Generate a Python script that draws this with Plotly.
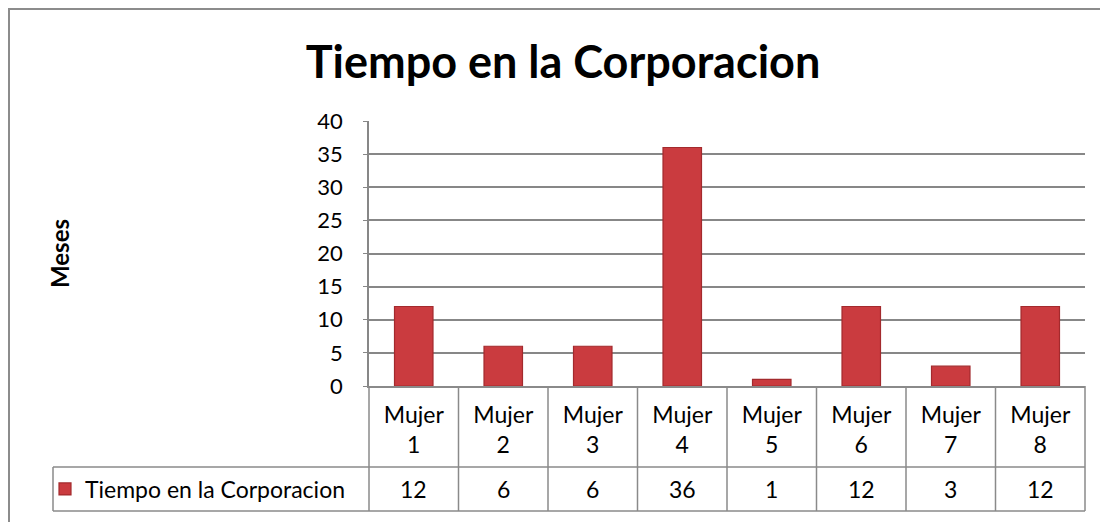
import plotly.graph_objects as go

categories = ["Mujer 1", "Mujer 2", "Mujer 3", "Mujer 4", "Mujer 5", "Mujer 6", "Mujer 7", "Mujer 8"]
tick_labels = ["Mujer<br>1", "Mujer<br>2", "Mujer<br>3", "Mujer<br>4", "Mujer<br>5", "Mujer<br>6", "Mujer<br>7", "Mujer<br>8"]
values = [12, 6, 6, 36, 1, 12, 3, 12]
series_name = "Tiempo en la Corporacion"
title_text = "Tiempo en la Corporacion"
y_title = "Meses"

# page has an 8px body margin, so the figure is 8px smaller than the window
OFF = 8
FIG_W, FIG_H = 1100, 514
L, R, T = 361, 23, 113
BOTTOM_PX = 378
B = FIG_H - BOTTOM_PX
PW = FIG_W - L - R
PH = FIG_H - T - B


def px2x(rx):
    return (rx - OFF - L) / PW


def py2y(ry):
    return (BOTTOM_PX - (ry - OFF)) / PH


FONT = "Lato"
GRID = "#878787"
TABLE = "#8a8a8a"
TXT = 23
n = len(categories)

fig = go.Figure()
fig.add_trace(go.Bar(
    x=list(range(n)), y=values, name=series_name, width=0.43,
    marker=dict(color="#CA3B3F", line=dict(color="#A32A2D", width=1.2)),
    showlegend=True,
))

shapes = []
# outer chart border (top & left visible)
shapes.append(dict(type="rect", xref="paper", yref="paper",
                   x0=px2x(9), x1=px2x(1140), y0=py2y(560), y1=py2y(9),
                   line=dict(color="#8c8c8c", width=2), layer="below"))
# table horizontal lines
for ry in (467, 511):
    shapes.append(dict(type="line", xref="paper", yref="paper",
                       x0=px2x(53), x1=1, y0=py2y(ry), y1=py2y(ry),
                       line=dict(color=TABLE, width=1.5)))
# table vertical lines
for k in range(n + 1):
    xp = k / n
    shapes.append(dict(type="line", xref="paper", yref="paper",
                       x0=xp, x1=xp, y0=py2y(511), y1=0,
                       line=dict(color=TABLE, width=1.5)))
shapes.append(dict(type="line", xref="paper", yref="paper",
                   x0=px2x(53), x1=px2x(53), y0=py2y(511), y1=py2y(467),
                   line=dict(color=TABLE, width=1.5)))

annotations = []
for i, v in enumerate(values):
    annotations.append(dict(x=i, xref="x", y=py2y(489), yref="paper",
                            text=str(v), showarrow=False,
                            font=dict(family=FONT, size=TXT, color="#000"),
                            xanchor="center", yanchor="middle"))
annotations.append(dict(x=px2x(59), xref="paper", y=py2y(254), yref="paper",
                        text="<b>%s</b>" % y_title, showarrow=False, textangle=-90,
                        font=dict(family=FONT, size=24, color="#000"),
                        xanchor="center", yanchor="middle"))

fig.update_layout(
    width=FIG_W, height=FIG_H,
    margin=dict(l=L, r=R, t=T, b=B),
    paper_bgcolor="white", plot_bgcolor="white",
    title=dict(text="<b>%s</b>" % title_text, x=(563 - OFF) / FIG_W, xanchor="center",
               y=1 - (62 - OFF) / FIG_H, yanchor="middle", yref="container",
               font=dict(family=FONT, size=45, color="#000")),
    xaxis=dict(range=[-0.5, n - 0.5], tickmode="array", tickvals=list(range(n)),
               ticktext=tick_labels, showgrid=False, zeroline=False,
               showline=True, linecolor=TABLE, linewidth=1.5, ticks="",
               tickfont=dict(family=FONT, size=TXT, color="#000"), ticklabelstandoff=8),
    yaxis=dict(range=[0, 40], dtick=5, showgrid=True, gridcolor=GRID, gridwidth=1.5,
               zeroline=False, showline=True, linecolor=GRID, linewidth=1.5,
               ticks="outside", ticklen=4, tickcolor=GRID, ticklabelstandoff=16,
               tickfont=dict(family=FONT, size=22, color="#000")),
    legend=dict(x=px2x(45), xanchor="left", y=py2y(489), yanchor="middle",
                xref="paper", yref="paper", bgcolor="rgba(0,0,0,0)",
                font=dict(family=FONT, size=TXT, color="#000"),
                itemwidth=30, tracegroupgap=0),
    shapes=shapes, annotations=annotations,
)

fig.write_html("out.html")
